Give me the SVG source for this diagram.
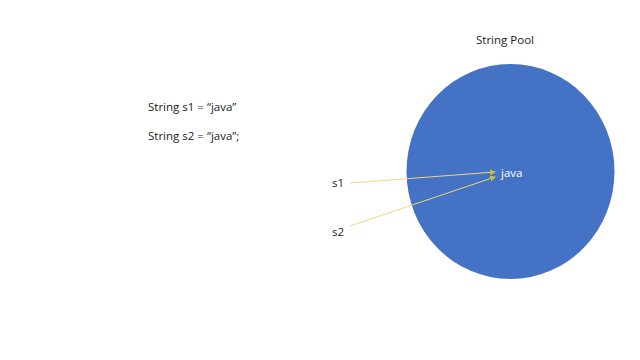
<svg xmlns="http://www.w3.org/2000/svg" width="640" height="360" viewBox="0 0 640 360">
<style>
text{font-family:"Open Sans","Liberation Sans",sans-serif;font-size:11.5px;fill:#1a1a1a}
.w{fill:#ffffff}
.c{stroke:#f2d77a;stroke-width:1;fill:none}
</style>
<defs>
<marker id="a" markerWidth="6" markerHeight="6" refX="5" refY="3" orient="auto" markerUnits="userSpaceOnUse">
<path d="M0,0 L6,3 L0,6 z" fill="#c8c040"/>
</marker>
</defs>
<rect width="640" height="360" fill="#ffffff"/>
<text x="148" y="111">String s1 = “java”</text>
<text x="148" y="140">String s2 = “java”;</text>
<g id="pool">
<ellipse cx="510.5" cy="171.5" rx="104" ry="107.5" fill="#4472c4"/>
<text x="476" y="44">String Pool</text>
<text class="w" x="501" y="177">java</text>
</g>
<g id="s1"><text x="332" y="187">s1</text></g>
<g id="s2"><text x="332" y="236">s2</text></g>
<g id="connectors">
<line class="c" x1="350" y1="183" x2="495" y2="172" marker-end="url(#a)"/>
<line class="c" x1="350" y1="226" x2="495" y2="177" marker-end="url(#a)"/>
</g>
</svg>
